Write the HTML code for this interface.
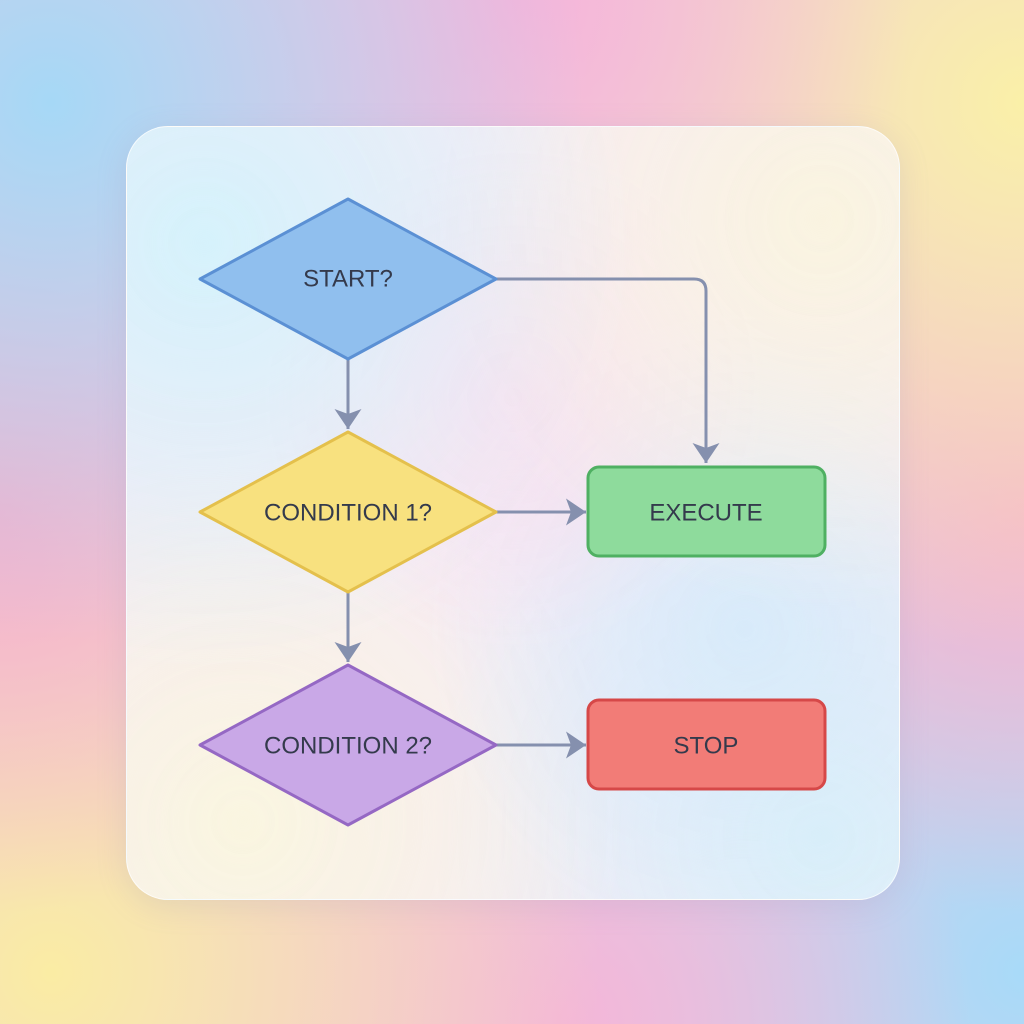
<!DOCTYPE html>
<html><head><style>
html,body{margin:0;padding:0;width:1024px;height:1024px;overflow:hidden}
body{position:relative;background:#f4c4dc;}
.bg{position:absolute;inset:0;background:
radial-gradient(circle at 5% 10%,#a6d8f6 0,rgba(166,216,246,0) 40%),
radial-gradient(circle at 50% 0%,#f6b4da 0,rgba(246,180,218,0) 35%),
radial-gradient(circle at 100% 10%,#faf0a8 0,rgba(250,240,168,0) 40%),
radial-gradient(circle at 0% 50%,#f6b0cc 0,rgba(246,176,204,0) 35%),
radial-gradient(circle at 100% 50%,#f4b4d0 0,rgba(244,180,208,0) 35%),
radial-gradient(circle at 5% 95%,#faeca4 0,rgba(250,236,164,0) 40%),
radial-gradient(circle at 55% 100%,#f4b6d8 0,rgba(244,182,216,0) 35%),
radial-gradient(circle at 100% 95%,#a8daf8 0,rgba(168,218,248,0) 40%),
#eec8e0;}
.card{position:absolute;left:126px;top:126px;width:772px;height:772px;border-radius:42px;
background:
radial-gradient(circle at 10% 15%,rgba(210,242,252,0.9) 0,rgba(210,242,252,0) 45%),
radial-gradient(circle at 90% 12%,rgba(250,244,222,0.9) 0,rgba(250,244,222,0) 40%),
radial-gradient(circle at 50% 35%,rgba(250,220,236,0.7) 0,rgba(250,220,236,0) 40%),
radial-gradient(circle at 80% 65%,rgba(214,234,250,0.9) 0,rgba(214,234,250,0) 40%),
radial-gradient(circle at 15% 90%,rgba(250,246,222,0.9) 0,rgba(250,246,222,0) 40%),
radial-gradient(circle at 90% 92%,rgba(214,240,250,0.9) 0,rgba(214,240,250,0) 40%),
rgba(246,238,246,0.92);
box-shadow:0 6px 30px rgba(150,140,180,0.18);border:1px solid rgba(255,255,255,0.7)}
svg{position:absolute;left:0;top:0}
text{font-family:"Liberation Sans",sans-serif;font-size:24px;fill:#343a4c;text-anchor:middle;dominant-baseline:central}
</style></head><body>
<div class="bg"></div>
<div class="card"></div>
<svg width="1024" height="1024" viewBox="0 0 1024 1024">
<defs><marker id="a" markerWidth="22" markerHeight="28" refX="20" refY="13.5" orient="auto" markerUnits="userSpaceOnUse" viewBox="0 0 22 28"><path d="M0,0 L20,13.5 L0,27 L5,13.5 z" fill="#8590ae"/></marker></defs>
<g stroke="#8590ae" stroke-width="3" fill="none">
<path d="M496 279 H694 Q706 279 706 291 V463" marker-end="url(#a)"/>
<path d="M348 359 V429" marker-end="url(#a)"/>
<path d="M348 592 V662" marker-end="url(#a)"/>
<path d="M496 512 H586" marker-end="url(#a)"/>
<path d="M496 745 H586" marker-end="url(#a)"/>
</g>
<polygon points="348,199 496,279 348,359 200,279" fill="#90bfee" stroke="#5b90d4" stroke-width="3" stroke-linejoin="round"/>
<text x="348" y="279">START?</text>
<polygon points="348,432 496,512 348,592 200,512" fill="#f8e17f" stroke="#e4c04c" stroke-width="3" stroke-linejoin="round"/>
<text x="348" y="513">CONDITION 1?</text>
<polygon points="348,665 496,745 348,825 200,745" fill="#c9a8e7" stroke="#9568c4" stroke-width="3" stroke-linejoin="round"/>
<text x="348" y="746">CONDITION 2?</text>
<rect x="588" y="467" width="237" height="89" rx="11" fill="#8edb9c" stroke="#4fb062" stroke-width="3"/>
<text x="706" y="513">EXECUTE</text>
<rect x="588" y="700" width="237" height="89" rx="11" fill="#f27c77" stroke="#d64848" stroke-width="3"/>
<text x="706" y="746">STOP</text>
</svg>
</body></html>
